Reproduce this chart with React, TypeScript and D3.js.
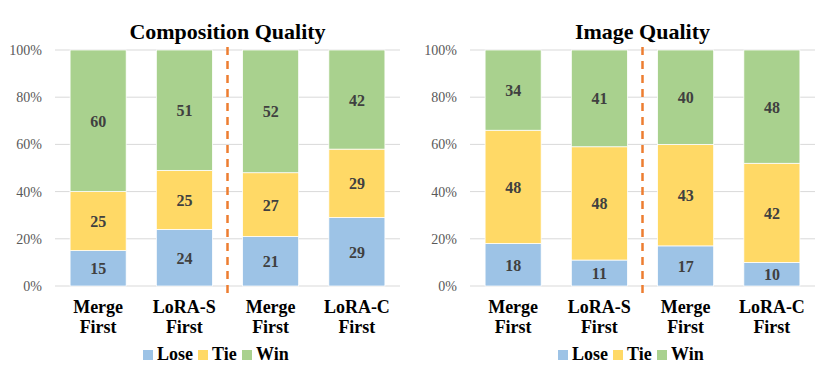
import React from "react";
import * as d3 from "d3";

const categories = ["Merge\nFirst", "LoRA-S\nFirst", "Merge\nFirst", "LoRA-C\nFirst"];
const seriesNames = ["Lose", "Tie", "Win"];
const seriesColors = ["#9DC3E6", "#FFD966", "#A9D18E"];
const yTicks = [0, 20, 40, 60, 80, 100];

const compLose = [15, 24, 21, 29];
const compTie = [25, 25, 27, 29];
const compWin = [60, 51, 52, 42];

const imgLose = [18, 11, 17, 10];
const imgTie = [48, 48, 43, 42];
const imgWin = [34, 41, 40, 48];

const FONT = "Liberation Serif";
const legendX = [88, 143, 187];

function Panel(props: { title: string; lose: number[]; tie: number[]; win: number[]; left: number }) {
  const { title, lose, tie, win, left } = props;
  const plotW = 345;
  const top = 50;
  const bottom = 286;

  const x = d3.scaleBand().domain(categories.map((c, i) => String(i))).range([0, plotW]).paddingInner(0.35).paddingOuter(0.175);
  const y = d3.scaleLinear().domain([0, 100]).range([bottom, top]);

  const rows = categories.map((c, i) => ({ key: String(i), Lose: lose[i], Tie: tie[i], Win: win[i] }));
  const stacked = d3.stack<any>().keys(seriesNames)(rows);
  const sepX = ((x("1") as number) + x.bandwidth() + (x("2") as number)) / 2;

  return (
    <g transform={"translate(" + left + ",0)"} fontFamily={FONT}>
      {yTicks.map((t) => (
        <g key={t}>
          <line x1={0} x2={plotW} y1={y(t)} y2={y(t)} stroke="#D9D9D9" strokeWidth={1} />
          <text x={-13} y={y(t) + 5} textAnchor="end" fontSize={14} fill="#595959">
            {t + "%"}
          </text>
        </g>
      ))}
      {stacked.map((layer: any, si: number) =>
        layer.map((d: any) => {
          const bx = x(d.data.key) as number;
          return (
            <g key={si + "-" + d.data.key}>
              <rect x={bx} width={x.bandwidth()} y={y(d[1])} height={y(d[0]) - y(d[1])}
                fill={seriesColors[si]} stroke="#fff" strokeWidth={0.75} />
              <text x={bx + x.bandwidth() / 2} y={(y(d[0]) + y(d[1])) / 2 + 6} textAnchor="middle"
                fontSize={16} fontWeight="bold" fill="#404040">
                {d[1] - d[0]}
              </text>
            </g>
          );
        })
      )}
      {categories.map((c, i) => {
        const cx = (x(String(i)) as number) + x.bandwidth() / 2;
        return c.split("\n").map((line, li) => (
          <text key={i + "-" + li} x={cx} y={313 + li * 20} textAnchor="middle" fontSize={18} fontWeight="bold" fill="#000">
            {line}
          </text>
        ));
      })}
      <line x1={sepX} x2={sepX} y1={47} y2={295} stroke="#ED7D31" strokeWidth={2.5} strokeDasharray="8,6" />
      <text x={plotW / 2} y={39} textAnchor="middle" fontSize={22} fontWeight="bold" fill="#000">
        {title}
      </text>
      {seriesNames.map((name, i) => (
        <g key={name}>
          <rect x={legendX[i]} y={350} width={10} height={10} fill={seriesColors[i]} />
          <text x={legendX[i] + 14} y={360} fontSize={18} fontWeight="bold" fill="#000">
            {name}
          </text>
        </g>
      ))}
    </g>
  );
}

export default function App() {
  return (
    <svg width={830} height={381} style={{ position: "absolute", left: 0, top: 0, background: "#fff" }}>
      <Panel title="Composition Quality" lose={compLose} tie={compTie} win={compWin} left={55} />
      <Panel title="Image Quality" lose={imgLose} tie={imgTie} win={imgWin} left={470} />
    </svg>
  );
}
